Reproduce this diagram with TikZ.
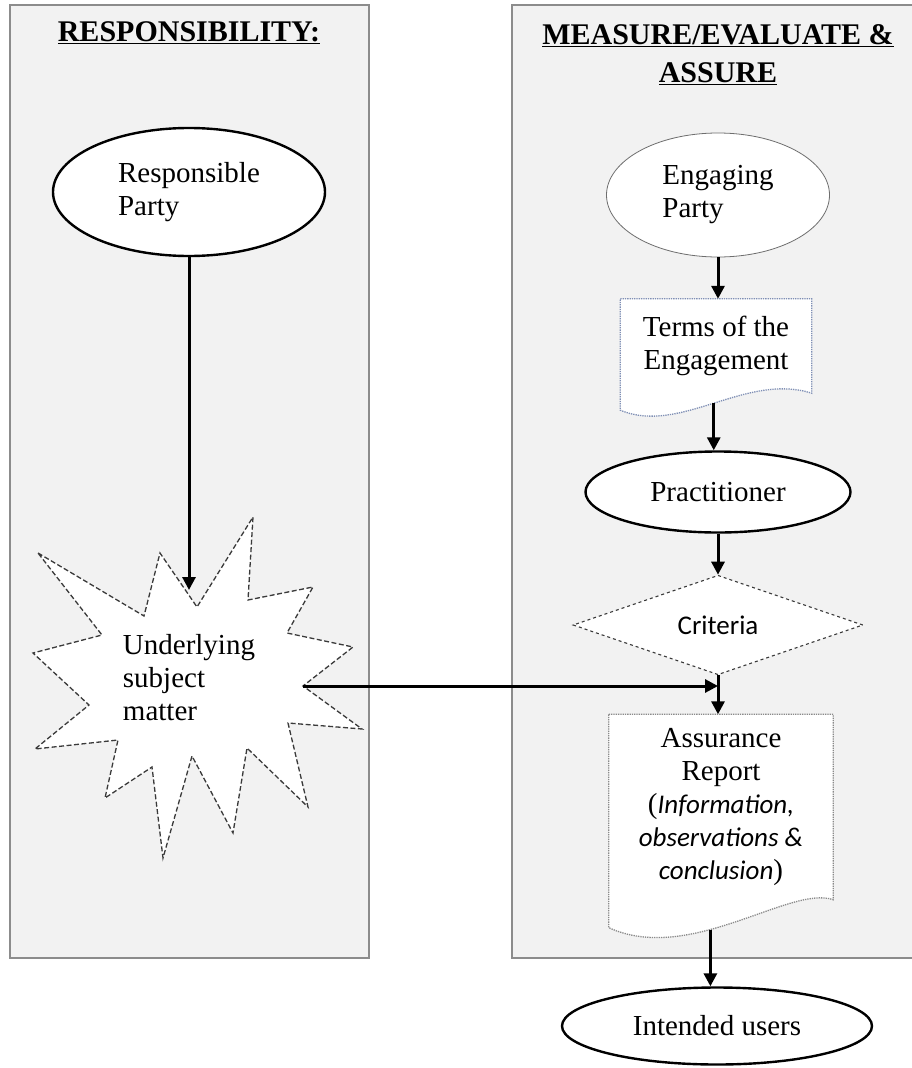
\documentclass[tikz,border=0pt]{standalone}
\usepackage{fontspec}
\setmainfont{Liberation Serif}
\newfontfamily\calibri{Carlito}
\usetikzlibrary{arrows.meta,%
                shapes,%
                calc,%
                backgrounds}
\definecolor{panelfill}{HTML}{F2F2F2}
\definecolor{panelline}{HTML}{8C8C8C}
\definecolor{engline}{HTML}{6E6E6E}
\definecolor{termsline}{HTML}{7F8FB5}
\definecolor{reportline}{HTML}{8A8A8A}
\definecolor{burstline}{HTML}{3A3A3A}
\newcommand{\ital}[1]{{\calibri\itshape\fontsize{27}{33}\selectfont #1}}
\pgfdeclarelayer{panels}
\pgfsetlayers{panels,background,main}

\begin{document}
\begin{tikzpicture}[x=1pt,y=-1pt,font=\fontsize{29}{33}\selectfont]
		\tikzstyle{panel}=[draw=panelline,fill=panelfill,line width=1.6pt]
		\tikzstyle{heading}=[font=\fontsize{30}{38}\selectfont\bfseries,align=center]
		\tikzstyle{party}=[ellipse,draw=black,fill=white,line width=2.4pt,inner sep=0pt]
		\tikzstyle{document}=[rectangle,inner sep=0pt,align=center]
		\tikzset{docline/.style = {draw=#1,fill=white,densely dotted,line width=1.3pt}}
		\tikzstyle{burst}=[draw=burstline,fill=white,dash pattern=on 5pt off 2.5pt,line width=1.3pt,line join=miter]
		\tikzstyle{flow}=[-{Triangle[length=13pt,width=13pt]},line width=3pt]
		\useasboundingbox (0,0) rectangle (911,1068);
		\begin{pgfonlayer}{panels}
			\draw[panel] (10,5) rectangle (369,958);
			\draw[panel] (512,5) rectangle (920,958);
		\end{pgfonlayer}
		\node[heading] (resphead) at (189,33) {\underline{RESPONSIBILITY:}};
		\node[heading] (measurehead) at (718,55) {\underline{MEASURE/EVALUATE \&}\\\underline{ASSURE}};
		% left column
		\node[party,minimum width=272pt,minimum height=128pt,align=left] (resp) at (189,192) {Responsible\\Party};
		\node[align=left] (subject) at (189,678) {Underlying\\subject\\matter};
		\begin{pgfonlayer}{background}
			\draw[burst] (38,553) -- (144,616) -- (160,553) -- (197,607) -- (253,517) -- (248,600)
				-- (313,587) -- (287,633) -- (353,647) -- (303,686) coordinate (burstright)
				-- (362,729) -- (288,723) -- (308,807) -- (247,748) -- (233,833) -- (192,756)
				-- (163,858) -- (152,767) -- (105,798) -- (118,740) -- (35,749) -- (89,705)
				-- (33,653) -- (102,635) -- cycle;
		\end{pgfonlayer}
		\coordinate (bursttop) at (189,590);
		% right column
		\node[party,draw=engline,line width=0.8pt,minimum width=223pt,minimum height=124pt,align=left] (engaging) at (718,195) {Engaging\\Party};
		\node[document,minimum width=191pt,minimum height=94pt] (terms) at (716,346) {Terms of the\\Engagement};
		\node[party,minimum width=265pt,minimum height=81pt] (pract) at (718,492) {Practitioner};
		\node[diamond,draw=burstline,dashed,fill=white,line width=1.1pt,minimum width=290pt,minimum height=90pt,inner sep=0pt,
			font=\calibri\fontsize{27}{30}\selectfont] (crit) at (718,625) {\raisebox{-4pt}{Criteria}};
		\node[document,minimum width=224pt,minimum height=185pt] (report) at (721,807) {Assurance\\Report\\(\ital{Information,}\\\ital{observations \&}\\\ital{conclusion})};
		\node[party,minimum width=310pt,minimum height=77pt] (users) at (717,1026) {Intended users};
		\begin{pgfonlayer}{background}
			\draw[docline=termsline] (terms.north west) -- (terms.north east) -- (terms.south east)
				.. controls +(-66,-21) and +(60,25) .. ($(terms.south west)+(0,17)$) coordinate[pos=0.5] (termsout) -- cycle;
			\draw[docline=reportline] (report.north west) -- (report.north east) -- (report.south east)
				.. controls +(-43,-15) and +(81,37) .. ($(report.south west)+(0,28)$) coordinate[pos=0.6] (reportout) -- cycle;
		\end{pgfonlayer}
		%\draw[flow] (resp) -- (subject);
		\draw[flow] (resp.south) -- (bursttop);
		\draw[flow] (engaging.south) -- (engaging.south |- terms.north);
		\draw[flow] (termsout) -- (termsout |- pract.north);
		\draw[flow] (pract.south) -- (crit.north);
		\draw[flow] (crit.south) -- (crit.south |- report.north);
		\draw[flow] (burstright) -- (burstright -| crit.south);
		\draw[flow] (reportout) -- (reportout |- users.north);
\end{tikzpicture}
\end{document}
